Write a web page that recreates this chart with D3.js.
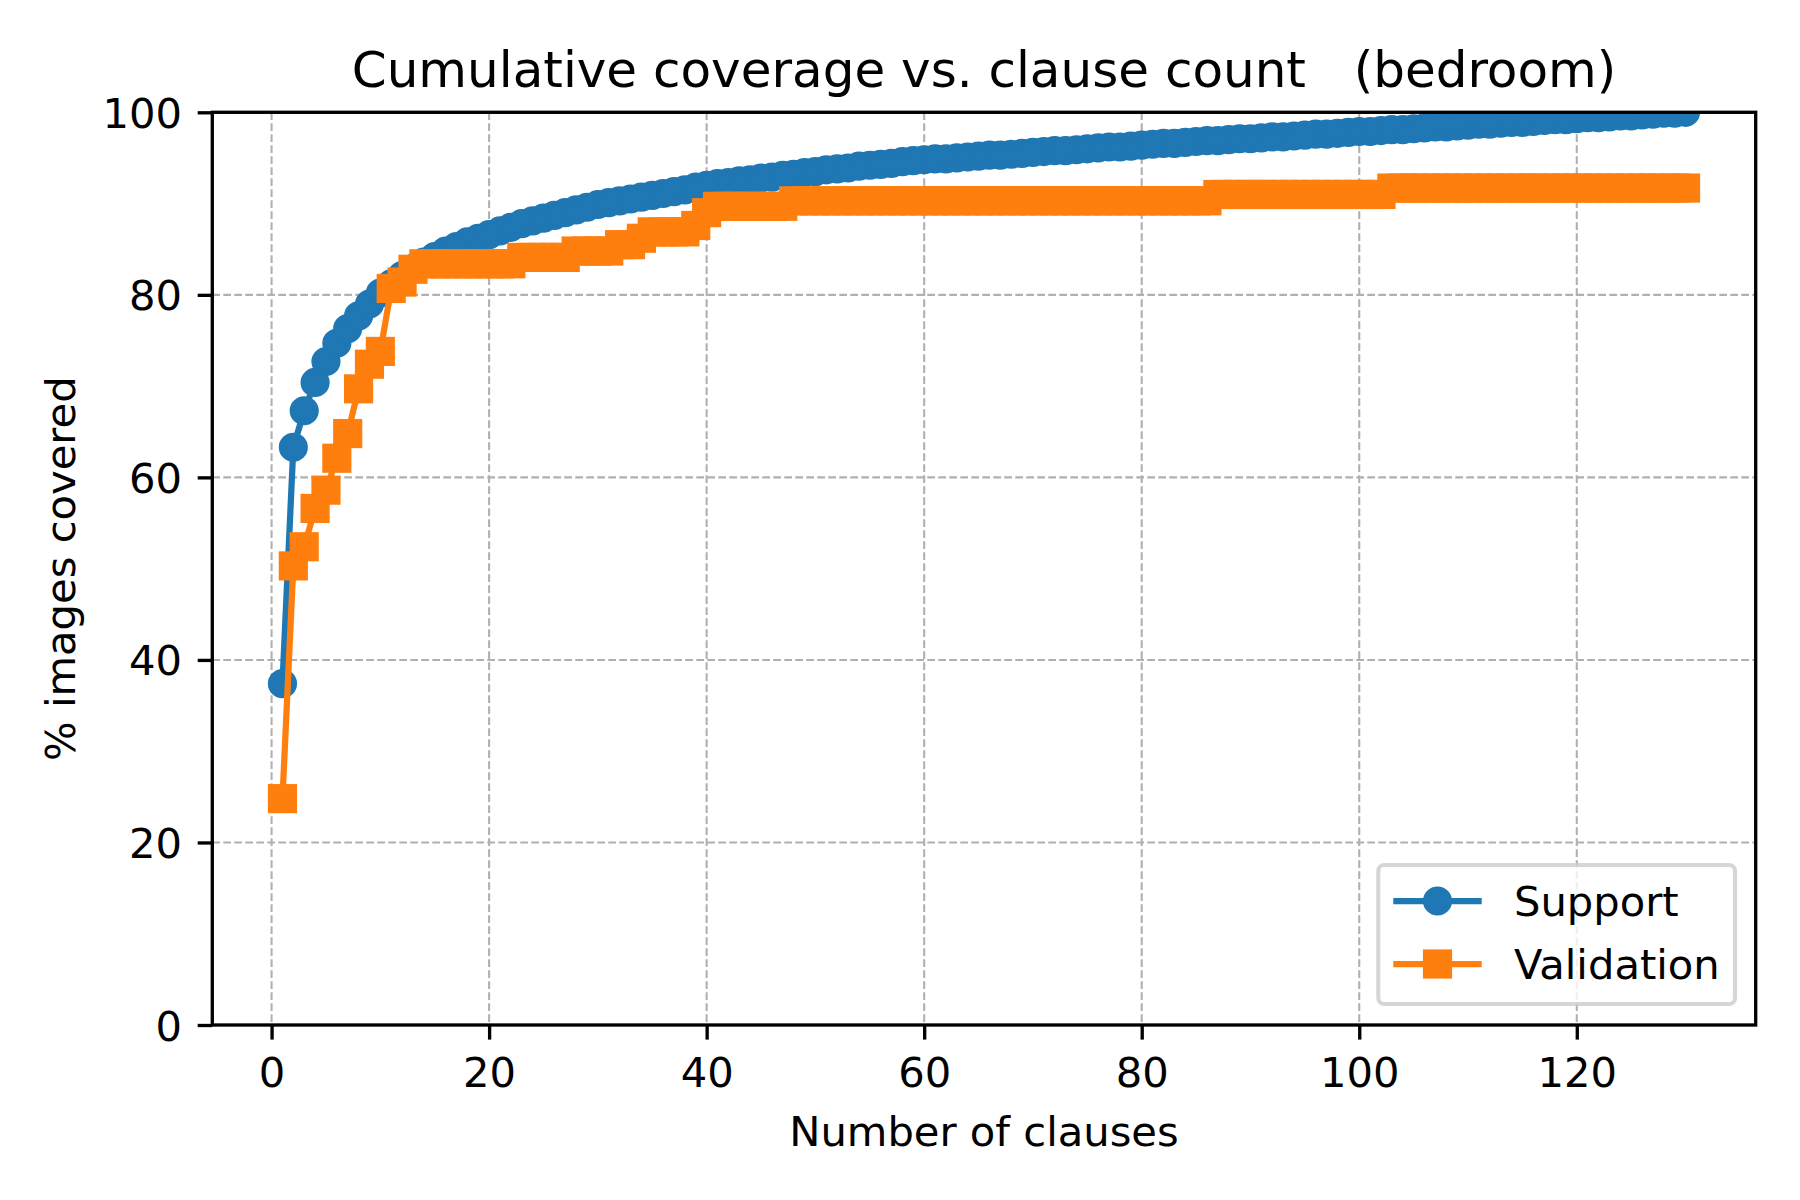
<!DOCTYPE html>
<html>
<head>
<meta charset="utf-8">
<script src="https://cdn.jsdelivr.net/npm/d3@7"></script>
<style>
  html, body { margin: 0; padding: 0; background: #fff; }
  svg { display: block; }
  text { font-family: "DejaVu Sans", sans-serif; fill: #000; }
</style>
</head>
<body>
<svg id="chart" width="1800" height="1200"></svg>
<script>
// ---------------- data ----------------
const titleText = "Cumulative coverage vs. clause count   (bedroom)";
const xLabel = "Number of clauses";
const yLabel = "% images covered";
const seriesNames = ["Support", "Validation"];
const xTicks = [0, 20, 40, 60, 80, 100, 120];
const yTicks = [0, 20, 40, 60, 80, 100];

// number of clauses (x = 1 .. 130)
const clauses = d3.range(1, 131);

// cumulative % of support images covered
const supportValues = [
  37.4, 63.3, 67.3, 70.4, 72.7, 74.7, 76.3, 77.7, 79.0, 80.2,
  81.2, 82.1, 82.9, 83.6, 84.2, 84.8, 85.3, 85.8, 86.2, 86.6,
  87.0, 87.4, 87.8, 88.1, 88.4, 88.7, 89.0, 89.3, 89.6, 89.9,
  90.1, 90.3, 90.5, 90.7, 90.9, 91.1, 91.3, 91.5, 91.8, 92.0,
  92.2, 92.3, 92.5, 92.6, 92.8, 92.9, 93.1, 93.2, 93.4, 93.5,
  93.7, 93.8, 93.9, 94.1, 94.2, 94.3, 94.4, 94.6, 94.7, 94.8,
  94.9, 94.9, 95.0, 95.1, 95.2, 95.3, 95.3, 95.4, 95.5, 95.6,
  95.7, 95.8, 95.8, 95.9, 96.0, 96.1, 96.2, 96.2, 96.3, 96.4,
  96.5, 96.6, 96.6, 96.7, 96.8, 96.9, 96.9, 97.0, 97.1, 97.1,
  97.2, 97.3, 97.3, 97.4, 97.5, 97.6, 97.6, 97.7, 97.8, 97.9,
  97.9, 98.0, 98.1, 98.1, 98.2, 98.3, 98.4, 98.4, 98.5, 98.6,
  98.7, 98.7, 98.8, 98.9, 98.9, 99.0, 99.1, 99.2, 99.2, 99.3,
  99.4, 99.4, 99.5, 99.6, 99.6, 99.7, 99.8, 99.9, 99.9, 100.0
];

// cumulative % of validation images covered
const validationValues = [
  24.8, 50.3, 52.4, 56.6, 58.6, 62.1, 64.8, 69.7, 72.4, 73.8,
  80.7, 81.4, 82.8, 83.4, 83.4, 83.4, 83.4, 83.4, 83.4, 83.4,
  83.4, 83.4, 84.1, 84.1, 84.1, 84.1, 84.1, 84.8, 84.8, 84.8,
  84.8, 85.5, 85.5, 86.2, 86.9, 86.9, 86.9, 86.9, 87.6, 89.0,
  89.7, 89.7, 89.7, 89.7, 89.7, 89.7, 89.7, 90.3, 90.3, 90.3,
  90.3, 90.3, 90.3, 90.3, 90.3, 90.3, 90.3, 90.3, 90.3, 90.3,
  90.3, 90.3, 90.3, 90.3, 90.3, 90.3, 90.3, 90.3, 90.3, 90.3,
  90.3, 90.3, 90.3, 90.3, 90.3, 90.3, 90.3, 90.3, 90.3, 90.3,
  90.3, 90.3, 90.3, 90.3, 90.3, 90.3, 91.0, 91.0, 91.0, 91.0,
  91.0, 91.0, 91.0, 91.0, 91.0, 91.0, 91.0, 91.0, 91.0, 91.0,
  91.0, 91.0, 91.7, 91.7, 91.7, 91.7, 91.7, 91.7, 91.7, 91.7,
  91.7, 91.7, 91.7, 91.7, 91.7, 91.7, 91.7, 91.7, 91.7, 91.7,
  91.7, 91.7, 91.7, 91.7, 91.7, 91.7, 91.7, 91.7, 91.7, 91.7
];

const colors = ["#1f77b4", "#ff7f0e"];

// ---------------- layout ----------------
const L = 212.3, R = 1755.7, T = 112.3, B = 1025;
const FS = 41.67;          // 10pt at 300 dpi
const TICK = 14.6;         // 3.5pt
const SPINE = 3.33;        // 0.8pt
const LW = 6.25;           // 1.5pt
const MS = 25;             // marker size 6pt
const MEW = 4.17;          // marker edge 1pt

const svg = d3.select("#chart");

const x = d3.scaleLinear().domain([-5.45, 136.45]).range([L, R]);
const y = d3.scaleLinear().domain([0, 100]).range([B, T]);

// clip for data
svg.append("defs").append("clipPath").attr("id", "plotclip")
  .append("rect").attr("x", L).attr("y", T).attr("width", R - L).attr("height", B - T);

// grid
const grid = svg.append("g").attr("class", "grid");
grid.selectAll("line.gx").data(xTicks).join("line")
  .attr("x1", d => x(d)).attr("x2", d => x(d))
  .attr("y1", T).attr("y2", B)
  .attr("stroke", "#b0b0b0").attr("stroke-width", 2.08)
  .attr("stroke-dasharray", "7.7,3.3");
grid.selectAll("line.gy").data(yTicks).join("line")
  .attr("x1", L).attr("x2", R)
  .attr("y1", d => y(d)).attr("y2", d => y(d))
  .attr("stroke", "#b0b0b0").attr("stroke-width", 2.08)
  .attr("stroke-dasharray", "7.7,3.3");

// series
const series = [
  { name: seriesNames[0], values: supportValues, color: colors[0], marker: "circle" },
  { name: seriesNames[1], values: validationValues, color: colors[1], marker: "square" }
];

const plot = svg.append("g").attr("clip-path", "url(#plotclip)");
const lineGen = d3.line().x((d, i) => x(clauses[i])).y(d => y(d));

function drawMarker(g, type, cx, cy, color) {
  if (type === "circle") {
    g.append("circle").attr("cx", cx).attr("cy", cy).attr("r", MS / 2)
      .attr("fill", color).attr("stroke", color).attr("stroke-width", MEW);
  } else {
    g.append("rect").attr("x", cx - MS / 2).attr("y", cy - MS / 2)
      .attr("width", MS).attr("height", MS)
      .attr("fill", color).attr("stroke", color).attr("stroke-width", MEW);
  }
}

series.forEach(s => {
  const g = plot.append("g");
  g.append("path").datum(s.values).attr("d", lineGen)
    .attr("fill", "none").attr("stroke", s.color).attr("stroke-width", LW)
    .attr("stroke-linejoin", "round").attr("stroke-linecap", "butt");
  const mg = g.append("g");
  s.values.forEach((v, i) => drawMarker(mg, s.marker, x(clauses[i]), y(v), s.color));
});

// axes
const xAxis = d3.axisBottom(x).tickValues(xTicks).tickSize(TICK).tickPadding(17.8).tickFormat(d3.format("d"));
const yAxis = d3.axisLeft(y).tickValues(yTicks).tickSize(TICK).tickPadding(15.7).tickFormat(d3.format("d"));

const gx = svg.append("g").attr("transform", `translate(0,${B})`).call(xAxis);
const gy = svg.append("g").attr("transform", `translate(${L},0)`).call(yAxis);
[gx, gy].forEach(g => {
  g.select(".domain").remove();
  g.selectAll(".tick line").attr("stroke", "#000").attr("stroke-width", SPINE);
  g.selectAll(".tick text").attr("font-size", FS).attr("font-family", "DejaVu Sans").attr("fill", "#000");
});
gy.selectAll(".tick text").attr("dy", "0.36em");

// spines
svg.append("rect").attr("x", L).attr("y", T).attr("width", R - L).attr("height", B - T)
  .attr("fill", "none").attr("stroke", "#000").attr("stroke-width", SPINE)
  .attr("stroke-linecap", "square");

// title & labels
svg.append("text").attr("x", (L + R) / 2).attr("y", 86.7)
  .attr("text-anchor", "middle").attr("font-size", 50)
  .style("white-space", "pre").attr("xml:space", "preserve")
  .text(titleText);
svg.append("text").attr("x", (L + R) / 2).attr("y", 1146)
  .attr("text-anchor", "middle").attr("font-size", FS).text(xLabel);
svg.append("text")
  .attr("transform", `translate(75,${(T + B) / 2}) rotate(-90)`)
  .attr("text-anchor", "middle").attr("font-size", FS).text(yLabel);

// legend
const lg = svg.append("g");
lg.append("rect").attr("x", 1378.3).attr("y", 865).attr("width", 1735 - 1378.3).attr("height", 1004 - 865)
  .attr("rx", 6).attr("ry", 6)
  .attr("fill", "#fff").attr("fill-opacity", 0.8)
  .attr("stroke", "#cccccc").attr("stroke-opacity", 0.8).attr("stroke-width", 4.17);
const legendY = [901, 964];
series.forEach((s, i) => {
  const yy = legendY[i];
  lg.append("line").attr("x1", 1393.3).attr("x2", 1481.7).attr("y1", yy).attr("y2", yy)
    .attr("stroke", s.color).attr("stroke-width", LW);
  drawMarker(lg, s.marker, 1437.5, yy, s.color);
  lg.append("text").attr("x", 1514).attr("y", yy + 15).attr("font-size", FS).text(s.name);
});
</script>
</body>
</html>
